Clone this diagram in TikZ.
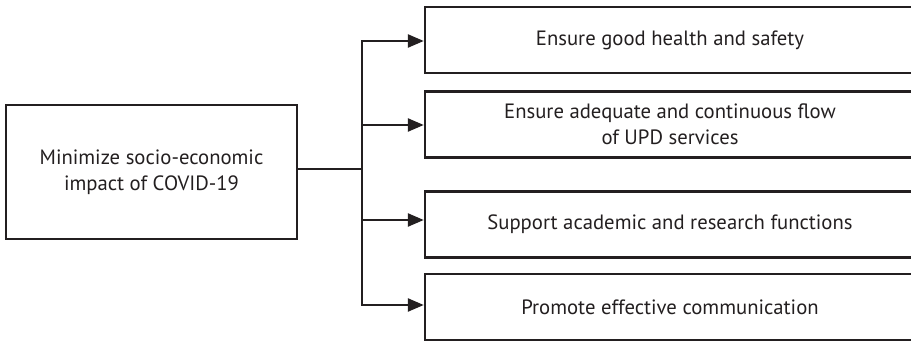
\documentclass[tikz,border=0pt]{standalone}
\usepackage{fontspec}
\setmainfont{PT Sans}
\usetikzlibrary{arrows.meta}
\definecolor{ink}{HTML}{231F20}
\begin{document}
\begin{tikzpicture}[x=1pt,y=-1pt,
  every node/.style={font=\fontsize{20.7}{25.5}\selectfont, text=ink},
  goalbox/.style={draw=ink, line width=2.4pt, minimum width=291pt, minimum height=134pt, inner sep=0pt, align=center},
  aimbox/.style={draw=ink, line width=2.4pt, minimum width=490pt, minimum height=66pt, inner sep=0pt, align=center},
  link/.style={draw=ink, line width=2.4pt},
  tip/.style={-{Triangle[length=16pt,width=13pt]}}
]
\useasboundingbox (0,0) rectangle (911,342);
\clip (0,0) rectangle (911,342);

% objective on the left
\node[goalbox] (goal) at (151.5,172) {Minimize socio-economic\\impact of COVID-19};

% four strategic aims on the right
\node[aimbox] (b1) at (670,40)    {Ensure good health and safety};
\node[aimbox] (b2) at (670,124.5) {Ensure adequate and continuous flow\\of UPD services};
\node[aimbox] (b3) at (670,224.5) {Support academic and research functions};
\node[aimbox] (b4) at (670,307)   {Promote effective communication};

% distribution bus
\coordinate (top) at (362,41);
\coordinate (a2)  at (362,125);
\coordinate (a3)  at (362,220);
\coordinate (bot) at (362,305);

\draw[link] ([yshift=3pt]goal.east) coordinate (g) -- (g -| top);
\draw[link, {Triangle[length=16pt,width=13pt]}-{Triangle[length=16pt,width=13pt]}]
  (b1.west |- top) -- (top) -- (bot) -- (b4.west |- bot);
\draw[link, tip] (a2) -- (a2 -| b2.west);
\draw[link, tip] (a3) -- (a3 -| b3.west);
\end{tikzpicture}
\end{document}
